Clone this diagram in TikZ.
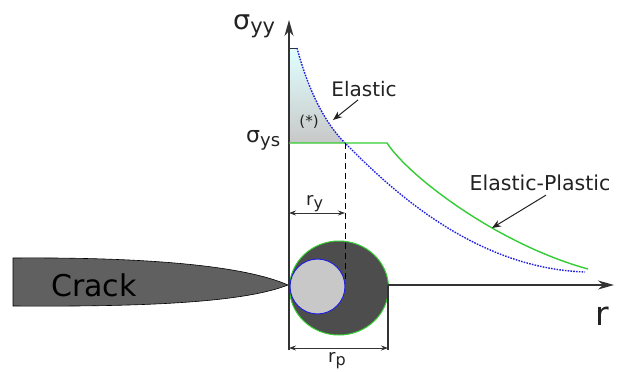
\documentclass[tikz,border=0pt]{standalone}
\usepackage{fontspec}
\setmainfont{DejaVu Sans}
\usetikzlibrary{arrows.meta}
\definecolor{crackgray}{HTML}{606060}
\definecolor{plastgray}{HTML}{4D4D4D}
\definecolor{elgray}{HTML}{C8C8C8}
\definecolor{elgreen}{HTML}{33CC33}
\definecolor{elblue}{HTML}{2222DD}
\definecolor{txt}{HTML}{222222}
\definecolor{axis}{HTML}{333333}
\tikzset{
  axisline/.style={draw=axis, line width=1.2pt},
  axisarrow/.style={axisline, -{Stealth[length=16pt,width=9pt,inset=5pt]}},
  dimline/.style={draw=axis, line width=0.8pt, {Stealth[length=7pt,width=5pt]}-{Stealth[length=7pt,width=5pt]}},
  pointer/.style={draw=txt, line width=1pt, -{Stealth[length=9pt,width=7pt]}},
  lbl/.style={inner sep=0pt, text=txt, font=\fontsize{20}{22}\selectfont},
  elasticcurve/.style={draw=elblue, line width=1.4pt, dash pattern=on 1.6pt off 1.2pt},
  plasticcurve/.style={draw=elgreen, line width=1.4pt},
}
\begin{document}
\begin{tikzpicture}[x=1pt,y=-1pt]
\useasboundingbox (0,0) rectangle (619,372);
% coordinates
\coordinate (O) at (289,285);
\coordinate (ytop) at (289,20);
\coordinate (ybot) at (289,350);
\coordinate (xstart) at (388,285);
\coordinate (xend) at (614,285);
\coordinate (top) at (297,48);
\coordinate (cross) at (345,143);
\coordinate (ysL) at (289,143);
\coordinate (knee) at (387,143);
\coordinate (gend) at (588,269);
\coordinate (bend) at (585,272);
\coordinate (dashend) at (345,283);
\coordinate (rpR) at (388,350);
% crack
\draw[fill=crackgray, draw=black, line width=0.6pt]
  (13,258) .. controls (150,257) and (245,266) .. (288,285)
  .. controls (245,302) and (150,307) .. (13,306) -- cycle;
\node[lbl, font=\fontsize{30}{32}\selectfont, text=black] (crack) at (94,285) {Crack};
% plastic zone
\draw[fill=plastgray, draw=elgreen, line width=1pt] (339,288) ellipse [x radius=49.5, y radius=47];
% elastic zone
\draw[fill=elgray, draw=elblue, line width=1pt] (317.5,286.5) circle [radius=27.5];
% shaded region
\shade[top color=cyan!12!white, bottom color=elgray]
  (ysL) -- (289,48) -- (top) .. controls (307,85) and (322,120) .. (cross) -- cycle;
% axes
\draw[axisarrow] (ybot) -- (ytop);
\draw[axisarrow] (xstart) -- (xend);
\draw[axisline] (xstart) -- (rpR);
% curves
\draw[draw=axis, line width=1pt] (289,48) -- (top);
\draw[elasticcurve] (top) .. controls (307,85) and (322,120) .. (cross)
  .. controls (385,183) and (470,268) .. (bend);
\draw[plasticcurve] (ysL) -- (knee) .. controls (410,178) and (500,245) .. (gend);
% dashed
\draw[draw=black, line width=0.9pt, dash pattern=on 6pt off 4pt] (cross) -- (dashend);
% dimensions
\draw[dimline] (289,213) -- (345,213);
\draw[dimline] (289,348) -- (388,348);
% labels
\node[lbl, anchor=base west] (syy) at (233,30) {\fontsize{27}{30}\selectfont σ\fontsize{21}{22}\selectfont\raisebox{-3pt}{yy}};
\node[lbl, anchor=base west] (sys) at (246,142) {\fontsize{22}{24}\selectfont σ\fontsize{18}{20}\selectfont\raisebox{-4pt}{ys}};
\node[lbl, anchor=base west] (ry) at (306,205) {\fontsize{18}{20}\selectfont r\fontsize{16}{18}\selectfont\raisebox{-3pt}{y}};
\node[lbl, anchor=base west] (rp) at (328,362) {\fontsize{18}{20}\selectfont r\fontsize{16}{18}\selectfont\raisebox{-3pt}{p}};
\node[lbl, anchor=base west, font=\fontsize{33}{34}\selectfont] (rax) at (595,325) {r};
\node[lbl, font=\fontsize{15}{16}\selectfont] (star) at (309,122) {(*)};
\node[lbl, font=\fontsize{20}{22}\selectfont] (elastic) at (364,89) {Elastic};
\node[lbl, font=\fontsize{20.5}{22}\selectfont] (elpl) at (540,183) {Elastic-Plastic};
\coordinate (eltip) at (333,120);
\coordinate (eptip) at (492,228);
\draw[pointer] (elastic.south) ++(-6,3) coordinate (elfrom) (elfrom) -- (eltip);
\draw[pointer] (elpl.south) ++(6,4) coordinate (epfrom) (epfrom) -- (eptip);
\end{tikzpicture}
\end{document}
